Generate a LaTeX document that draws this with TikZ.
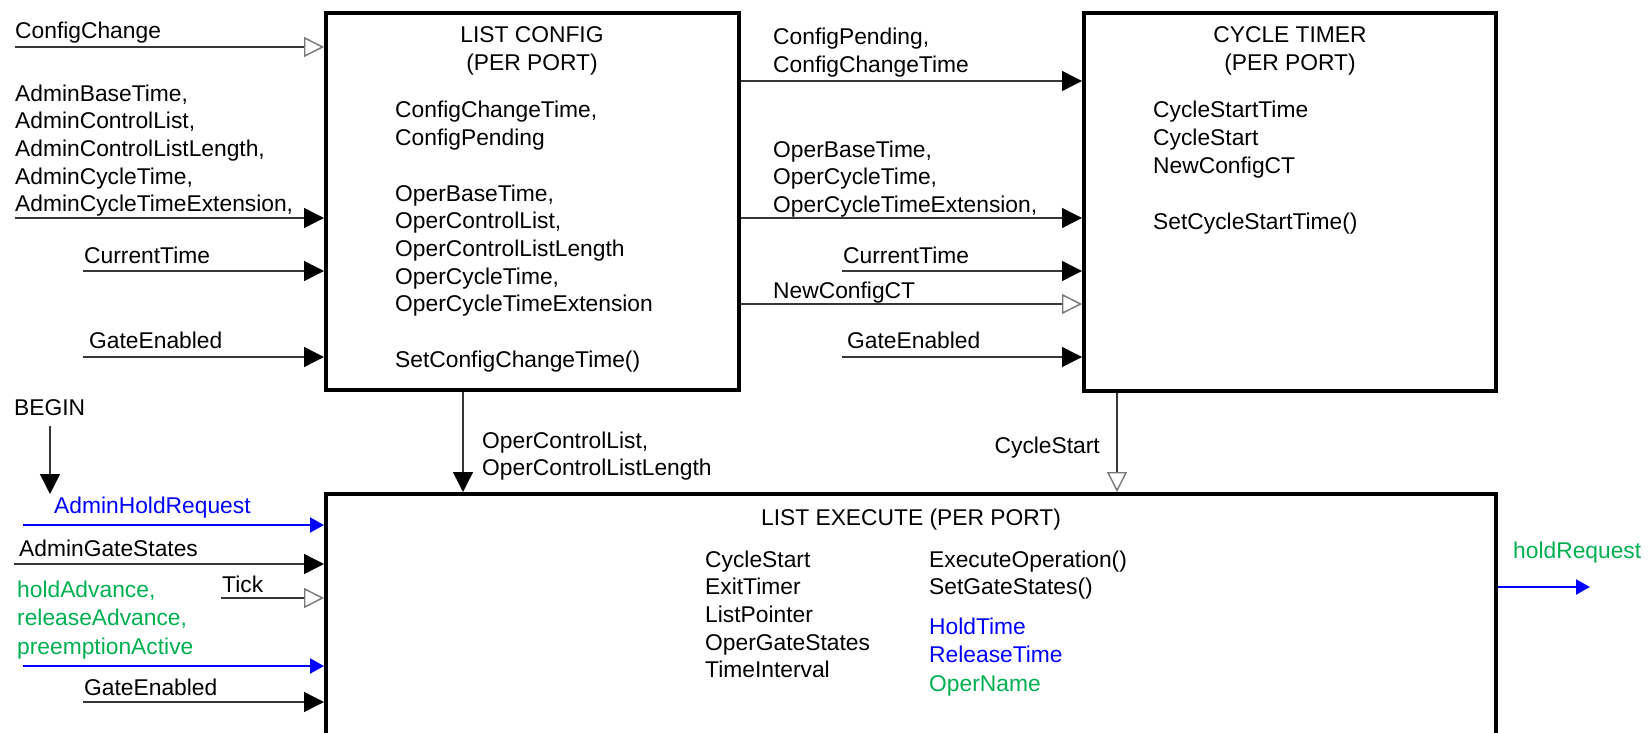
\documentclass[tikz,border=0pt]{standalone}
\usepackage{fontspec}
\setmainfont{Liberation Sans}
\usetikzlibrary{arrows.meta}
\definecolor{dblue}{RGB}{0,0,255}
\definecolor{dgreen}{RGB}{0,176,80}
\definecolor{lineg}{RGB}{55,55,55}
\definecolor{tipg}{RGB}{120,120,120}
\newcommand{\dfont}{\fontsize{22.8}{27.7}\selectfont}
\newcommand{\dfontw}{\fontsize{22.8}{28.6}\selectfont}
\tikzset{
  box/.style={draw=black, line width=4pt, rectangle, inner sep=0pt},
  txt/.style={anchor=base west, inner sep=0pt, font=\dfont, align=left},
  ctxt/.style={anchor=base, inner sep=0pt, font=\dfont, align=center},
  solidarrow/.style={draw=lineg, line width=1.4pt, -{Triangle[length=20pt,width=20pt,color=black]}},
  openarrow/.style={draw=lineg, line width=1.4pt, -{Triangle[open,length=20pt,width=20pt,color=tipg,fill=white]}},
  bluearrow/.style={draw=dblue, line width=2pt, -{Triangle[length=14pt,width=15pt]}},
}
\begin{document}
\begin{tikzpicture}[x=1pt,y=-1pt]
\useasboundingbox (0,0) rectangle (1652,733);
\clip (0,0) rectangle (1652,733);

% boxes
\node[box, minimum width=413pt, minimum height=377pt] (cfg) at (532.5,201.5) {};
\node[box, minimum width=412pt, minimum height=378pt] (ct) at (1290,202) {};
\node[box, minimum width=1170pt, minimum height=300pt] (ex) at (911,644) {};

% LIST CONFIG text (multi-line nodes are placed by the baseline of their last line)
\node[ctxt] (cfgt) at (532,70.7) {LIST CONFIG\\(PER PORT)};
\node[txt] (cfgv) at (395,145.7) {ConfigChangeTime,\\ConfigPending};
\node[txt] (cfgo) at (395,311.8) {OperBaseTime,\\OperControlList,\\OperControlListLength\\OperCycleTime,\\OperCycleTimeExtension};
\node[txt] (cfgf) at (395,367) {SetConfigChangeTime()};

% CYCLE TIMER text
\node[ctxt] (ctt) at (1290,70.7) {CYCLE TIMER\\(PER PORT)};
\node[txt] (ctv) at (1153,173.4) {CycleStartTime\\CycleStart\\NewConfigCT};
\node[txt] (ctf) at (1153,229) {SetCycleStartTime()};

% LIST EXECUTE text
\node[ctxt] (ext) at (911,525) {LIST EXECUTE (PER PORT)};
\node[txt] (exv) at (705,677.8) {CycleStart\\ExitTimer\\ListPointer\\OperGateStates\\TimeInterval};
\node[txt] (exf) at (929,594.7) {ExecuteOperation()\\SetGateStates()};
\node[txt, text=dblue, font=\dfontw] (exh) at (929,662.6) {HoldTime\\ReleaseTime};
\node[txt, text=dgreen] (exn) at (929,691) {OperName};

% inputs to LIST CONFIG
\node[txt] (lcc) at (15,39) {ConfigChange};
\coordinate (scc) at (15,47);
\draw[openarrow] (scc) -- (scc -| cfg.west);

\node[txt] (ladm) at (15,211.8) {AdminBaseTime,\\AdminControlList,\\AdminControlListLength,\\AdminCycleTime,\\AdminCycleTimeExtension,};
\coordinate (sadm) at (15,218);
\draw[solidarrow] (sadm) -- (sadm -| cfg.west);

\node[txt] (lct) at (84,263) {CurrentTime};
\coordinate (sct) at (83,271);
\draw[solidarrow] (sct) -- (sct -| cfg.west);

\node[txt] (lge) at (89,348) {GateEnabled};
\coordinate (sge) at (83,357);
\draw[solidarrow] (sge) -- (sge -| cfg.west);

% LIST CONFIG -> CYCLE TIMER
\node[txt] (mcp) at (773,72.7) {ConfigPending,\\ConfigChangeTime};
\coordinate (ymcp) at (760,81);
\draw[solidarrow] (ymcp -| cfg.east) -- (ymcp -| ct.west);

\node[txt] (mob) at (773,212.4) {OperBaseTime,\\OperCycleTime,\\OperCycleTimeExtension,};
\coordinate (ymob) at (760,218);
\draw[solidarrow] (ymob -| cfg.east) -- (ymob -| ct.west);

\node[txt] (mct) at (843,263) {CurrentTime};
\coordinate (smct) at (842,271);
\draw[solidarrow] (smct) -- (smct -| ct.west);

\node[txt] (mnc) at (773,298) {NewConfigCT};
\coordinate (ymnc) at (760,304);
\draw[openarrow] (ymnc -| cfg.east) -- (ymnc -| ct.west);

\node[txt] (mge) at (847,348) {GateEnabled};
\coordinate (smge) at (842,357);
\draw[solidarrow] (smge) -- (smge -| ct.west);

% vertical connectors
\node[txt] (vocl) at (482,475.7) {OperControlList,\\OperControlListLength};
\coordinate (xocl) at (463,440);
\draw[solidarrow] (xocl |- cfg.south) -- (xocl |- ex.north);

\node[anchor=base east, inner sep=0pt, font=\dfont] (vcs) at (1100,453) {CycleStart};
\coordinate (xcs) at (1117,440);
\draw[openarrow] (xcs |- ct.south) -- (xcs |- ex.north);

% inputs to LIST EXECUTE
\node[txt] (begin) at (14,415) {BEGIN};
\coordinate (sbeg) at (50,426);
\coordinate (ebeg) at (50,494);
\draw[solidarrow] (sbeg) -- (ebeg);

\node[txt, text=dblue] (ahr) at (54,513) {AdminHoldRequest};
\coordinate (sahr) at (23,525);
\draw[bluearrow] (sahr) -- (sahr -| ex.west);

\node[txt] (ags) at (19,556) {AdminGateStates};
\coordinate (sags) at (14,564);
\draw[solidarrow] (sags) -- (sags -| ex.west);

\node[txt] (tick) at (222,592) {Tick};
\coordinate (stick) at (221,598);
\draw[openarrow] (stick) -- (stick -| ex.west);

\node[txt, text=dgreen, font=\dfontw] (hadv) at (17,654.2) {holdAdvance,\\releaseAdvance,\\preemptionActive};
\coordinate (shadv) at (23,666);
\draw[bluearrow] (shadv) -- (shadv -| ex.west);

\node[txt] (bge) at (84,695) {GateEnabled};
\coordinate (sbge) at (83,702);
\draw[solidarrow] (sbge) -- (sbge -| ex.west);

% output
\node[txt, text=dgreen] (hreq) at (1513,558) {holdRequest};
\coordinate (ehr) at (1590,587);
\draw[bluearrow] (ehr -| ex.east) -- (ehr);
\end{tikzpicture}
\end{document}
